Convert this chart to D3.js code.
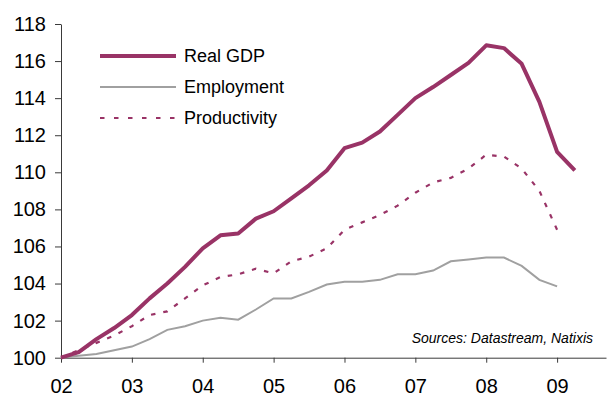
<!DOCTYPE html>
<html lang="en">
<head>
  <meta charset="utf-8">
  <title>Real GDP, employment and productivity</title>
  <script src="https://d3js.org/d3.v7.min.js"></script>
  <style>
    body { margin: 0; padding: 0; background: #fff; overflow: hidden; }
    svg { display: block; font-family: "Liberation Sans", Arial, sans-serif; }
    .axis path, .axis line { stroke: #3a3a3a; stroke-width: 1px; }
    .axis text { fill: #000; font-size: 20px; font-family: "Liberation Sans", Arial, sans-serif; }
  </style>
</head>
<body>
  <svg id="chart" width="607" height="396"></svg>
  <script>
    // quarterly observations, index 2002Q1 = 100
    const quarters = [
      "2002Q1", "2002Q2", "2002Q3", "2002Q4",
      "2003Q1", "2003Q2", "2003Q3", "2003Q4",
      "2004Q1", "2004Q2", "2004Q3", "2004Q4",
      "2005Q1", "2005Q2", "2005Q3", "2005Q4",
      "2006Q1", "2006Q2", "2006Q3", "2006Q4",
      "2007Q1", "2007Q2", "2007Q3", "2007Q4",
      "2008Q1", "2008Q2", "2008Q3", "2008Q4",
      "2009Q1", "2009Q2"
    ];
    const realGdp = [
      100.0, 100.3, 101.0, 101.6, 102.3, 103.2, 104.0, 104.9,
      105.9, 106.6, 106.7, 107.5, 107.9, 108.6, 109.3, 110.1,
      111.3, 111.6, 112.2, 113.1, 114.0, 114.6, 115.25, 115.9,
      116.85, 116.7, 115.85, 113.8, 111.1, 110.1
    ];
    const employment = [
      100.0, 100.1, 100.2, 100.4, 100.6, 101.0, 101.5, 101.7,
      102.0, 102.15, 102.05, 102.6, 103.2, 103.2, 103.55, 103.95,
      104.1, 104.1, 104.2, 104.5, 104.5, 104.7, 105.2, 105.3,
      105.4, 105.4, 104.95, 104.2, 103.85
    ];
    const productivity = [
      100.0, 100.4, 100.8, 101.2, 101.7, 102.3, 102.5, 103.2,
      103.9, 104.35, 104.5, 104.8, 104.55, 105.2, 105.45, 105.9,
      106.9, 107.3, 107.7, 108.2, 108.9, 109.45, 109.7, 110.2,
      110.95, 110.85, 110.2, 109.0, 106.9
    ];
    const yearTicks = [2002, 2003, 2004, 2005, 2006, 2007, 2008, 2009];
    const yTicks = [100, 102, 104, 106, 108, 110, 112, 114, 116, 118];

    const plum = "#993366";
    const grey = "#a0a0a0";

    const svg = d3.select("#chart");

    const toYear = q => +q.slice(0, 4) + (+q.slice(5) - 1) / 4;

    const x = d3.scaleLinear().domain([2002, 2009.69]).range([61, 606]);
    const y = d3.scaleLinear().domain([100, 118]).range([357.7, 24]);

    // axes
    const xAxis = d3.axisBottom(x)
      .tickValues(yearTicks)
      .tickFormat(d => String(d).slice(2))
      .tickSizeInner(5)
      .tickSizeOuter(0)
      .tickPadding(16);

    svg.append("g")
      .attr("class", "axis")
      .attr("transform", `translate(0,${y(100)})`)
      .call(xAxis);

    const yAxis = d3.axisLeft(y)
      .tickValues(yTicks)
      .tickFormat(d3.format("d"))
      .tickSizeInner(6)
      .tickSizeOuter(0)
      .tickPadding(9);

    svg.append("g")
      .attr("class", "axis")
      .attr("transform", `translate(${x(2002)},0)`)
      .call(yAxis);

    // series
    const line = d3.line()
      .x((d, i) => x(toYear(quarters[i])))
      .y(d => y(d));

    svg.append("path")
      .datum(employment)
      .attr("fill", "none")
      .attr("stroke", grey)
      .attr("stroke-width", 2)
      .attr("d", line);

    svg.append("path")
      .datum(productivity)
      .attr("fill", "none")
      .attr("stroke", plum)
      .attr("stroke-width", 2.2)
      .attr("stroke-dasharray", "4.5,8")
      .attr("d", line);

    svg.append("path")
      .datum(realGdp)
      .attr("fill", "none")
      .attr("stroke", plum)
      .attr("stroke-width", 4)
      .attr("stroke-linejoin", "round")
      .attr("d", line);

    // legend
    const legendItems = [
      { label: "Real GDP", color: plum, width: 4, dash: null },
      { label: "Employment", color: grey, width: 2, dash: null },
      { label: "Productivity", color: plum, width: 2.2, dash: "4.5,9.5" }
    ];

    const legend = svg.append("g");
    legendItems.forEach((item, i) => {
      const ly = 56 + i * 31;
      legend.append("line")
        .attr("x1", 100).attr("x2", 176)
        .attr("y1", ly).attr("y2", ly)
        .attr("stroke", item.color)
        .attr("stroke-width", item.width)
        .attr("stroke-dasharray", item.dash);
      legend.append("text")
        .attr("x", 184)
        .attr("y", ly + 6)
        .attr("font-size", 18)
        .attr("fill", "#000")
        .text(item.label);
    });

    // source note
    svg.append("text")
      .attr("x", 593)
      .attr("y", 343)
      .attr("text-anchor", "end")
      .attr("font-size", 14)
      .attr("font-style", "italic")
      .attr("fill", "#000")
      .text("Sources: Datastream, Natixis");
  </script>
</body>
</html>
